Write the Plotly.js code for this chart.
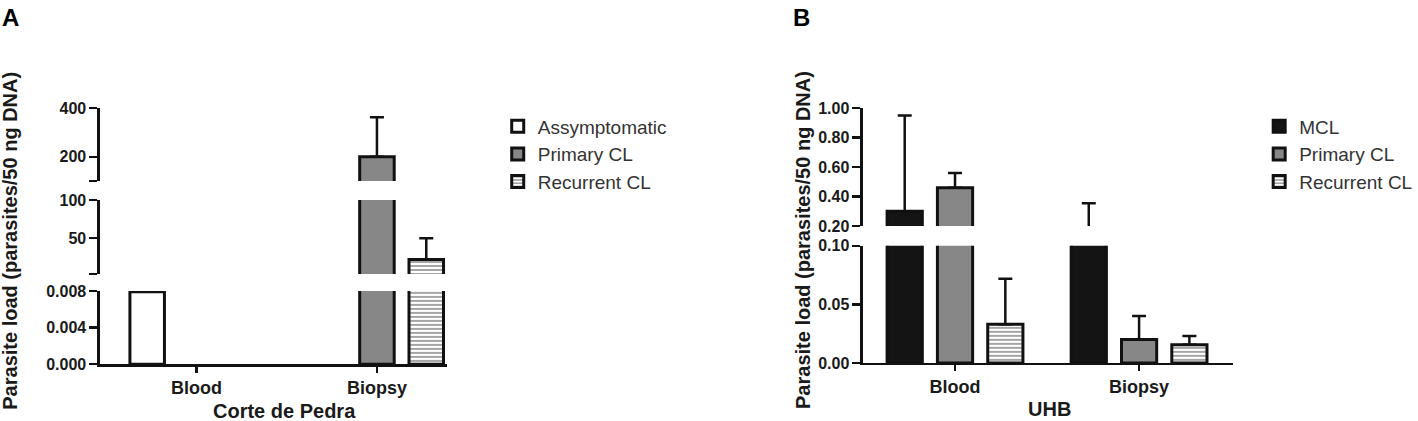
<!DOCTYPE html>
<html>
<head>
<meta charset="utf-8">
<script src="https://cdn.plot.ly/plotly-3.0.1.min.js"></script>
<style>
  body { margin: 0; background: #fff; }
  #chart { width: 1418px; height: 421px; }
</style>
</head>
<body>
<div id="chart"></div>
<script>
const categories = ['Blood', 'Biopsy'];

// panel A - Corte de Pedra
const seriesA = ['Assymptomatic', 'Primary CL', 'Recurrent CL'];
const asymA = [0.0079, null];
const asymErrA = [0, null];
const primaryA = [null, 200];
const primaryErrA = [null, 163];
const recurrentA = [null, 22];
const recurrentErrA = [null, 28];

// panel B - UHB
const seriesB = ['MCL', 'Primary CL', 'Recurrent CL'];
const mclB = [0.30, 0.15];
const mclErrB = [0.65, 0.205];
const primaryB = [0.46, 0.020];
const primaryErrB = [0.10, 0.020];
const recurrentB = [0.033, 0.0155];
const recurrentErrB = [0.039, 0.0075];

// y tick labels, per axis segment (bottom -> top)
const ticksA = [
  { vals: [0, 0.004, 0.008], text: ['0.000', '0.004', '0.008'] },
  { vals: [3, 50, 100], text: ['', '50', '100'] },
  { vals: [100, 200, 400], text: ['', '200', '400'] }
];
const ticksB = [
  { vals: [0, 0.05, 0.10], text: ['0.00', '0.05', '0.10'] },
  { vals: [0.2, 0.4, 0.6, 0.8, 1.0], text: ['0.20', '0.40', '0.60', '0.80', '1.00'] }
];

const FONT = 'Liberation Sans, Arial, sans-serif';
const INK = '#111';

// axis segments for the broken y axes; "mark" is the overlay axis for the break marks
const segA = [
  { id: 'y',  mark: 'y6',  range: [0, 0.008], domain: [0.135, 0.309], breaks: [0.008] },
  { id: 'y2', mark: 'y7',  range: [3, 100],   domain: [0.349, 0.525], breaks: [3, 100] },
  { id: 'y3', mark: 'y8',  range: [100, 400], domain: [0.570, 0.743], breaks: [100] }
];
const segB = [
  { id: 'y4', mark: 'y9',  range: [0, 0.1],   domain: [0.138, 0.416], breaks: [0.1] },
  { id: 'y5', mark: 'y10', range: [0.2, 1.0], domain: [0.463, 0.743], breaks: [0.2] }
];

const styles = {
  'Assymptomatic': { color: '#ffffff' },
  'MCL': { color: '#141414' },
  'Primary CL': { color: '#878787' },
  'Recurrent CL': { color: '#ffffff',
    pattern: { shape: '-', fgcolor: '#6a6a6a', bgcolor: '#ffffff', size: 4, solidity: 0.3 } }
};

function makeTraces(names, values, errors, xaxis, segs, legendId) {
  let traces = [];
  segs.forEach((seg, i) => {
    names.forEach((name, k) => {
      traces.push({
        type: 'bar',
        name: name,
        x: categories,
        y: values[k],
        xaxis: xaxis,
        yaxis: seg.id,
        legend: legendId,
        legendgroup: legendId + name,
        showlegend: i === 0,
        marker: Object.assign({ line: { color: INK, width: 3 } }, styles[name]),
        error_y: {
          type: 'data', symmetric: false,
          array: errors[k],
          arrayminus: errors[k].map(() => 0),
          color: INK, thickness: 2.5, width: 7
        },
        hoverinfo: 'skip'
      });
    });
  });
  return traces;
}

const data = [].concat(
  makeTraces(seriesA, [asymA, primaryA, recurrentA], [asymErrA, primaryErrA, recurrentErrA], 'x', segA, 'legend'),
  makeTraces(seriesB, [mclB, primaryB, recurrentB], [mclErrB, primaryErrB, recurrentErrB], 'x2', segB, 'legend2')
);

function yAxis(seg, ticks, anchor) {
  return {
    domain: seg.domain, range: seg.range, anchor: anchor,
    showline: true, linewidth: 2.5, linecolor: INK,
    ticks: 'outside', ticklen: 8, tickwidth: 2.5, tickcolor: INK,
    tickmode: 'array', tickvals: ticks.vals, ticktext: ticks.text,
    tickfont: { family: FONT, size: 16, weight: 'bold', color: '#1a1a1a' },
    showgrid: false, zeroline: false, fixedrange: true
  };
}

// break marks cross the axis line: inside half drawn by an overlay axis
function markAxis(seg, anchor) {
  return {
    overlaying: seg.id, anchor: anchor, side: 'left', range: seg.range,
    showline: false, ticks: 'inside', ticklen: 6, tickwidth: 2.5, tickcolor: INK,
    tickmode: 'array', tickvals: seg.breaks, showticklabels: false,
    showgrid: false, zeroline: false, fixedrange: true
  };
}

function xAxis(domain, range, anchor) {
  return {
    domain: domain, range: range, anchor: anchor, type: 'category',
    showline: true, linewidth: 2.5, linecolor: INK,
    ticks: 'outside', ticklen: 6, tickwidth: 2.5, tickcolor: INK,
    tickfont: { family: FONT, size: 18, weight: 'bold', color: '#1a1a1a' },
    showgrid: false, zeroline: false, fixedrange: true
  };
}

const legendStyle = {
  xanchor: 'left', yanchor: 'top', y: 0.745,
  font: { family: FONT, size: 19, color: '#333' },
  bgcolor: 'rgba(0,0,0,0)', traceorder: 'normal'
};

const layout = {
  width: 1418, height: 421,
  margin: { l: 0, r: 0, t: 0, b: 0 },
  paper_bgcolor: '#fff', plot_bgcolor: 'rgba(0,0,0,0)',
  barmode: 'group', bargap: 0.18, bargroupgap: 0.30,
  xaxis: xAxis([0.0705, 0.3152], [-0.535, 1.388], 'y'),
  xaxis2: xAxis([0.6086, 0.8695], [-0.5, 1.51], 'y4'),
  legend: Object.assign({ x: 0.351 }, legendStyle),
  legend2: Object.assign({ x: 0.888 }, legendStyle),
  annotations: [
    { text: '<b>A</b>', x: 0.0, y: 0.995, xanchor: 'left', yanchor: 'top' },
    { text: '<b>B</b>', x: 0.558, y: 0.995, xanchor: 'left', yanchor: 'top' }
  ].map(a => Object.assign(a, { xref: 'paper', yref: 'paper', showarrow: false,
                                font: { family: FONT, size: 24, color: '#000' } }))
    .concat([
      { text: '<b>Parasite load (parasites/50 ng DNA)</b>', x: 0.007, y: 0.428, textangle: -90 },
      { text: '<b>Parasite load (parasites/50 ng DNA)</b>', x: 0.5663, y: 0.43, textangle: -90 },
      { text: '<b>Corte de Pedra</b>', x: 0.2003, y: 0.024 },
      { text: '<b>UHB</b>', x: 0.7398, y: 0.028 }
    ].map(a => Object.assign(a, { xref: 'paper', yref: 'paper', showarrow: false,
                                  xanchor: 'center', yanchor: 'middle',
                                  font: { family: FONT, size: 20, color: '#1a1a1a' } })))
};

segA.forEach((seg, i) => {
  layout['yaxis' + seg.id.slice(1)] = yAxis(seg, ticksA[i], 'x');
  layout['yaxis' + seg.mark.slice(1)] = markAxis(seg, 'x');
});
segB.forEach((seg, i) => {
  layout['yaxis' + seg.id.slice(1)] = yAxis(seg, ticksB[i], 'x2');
  layout['yaxis' + seg.mark.slice(1)] = markAxis(seg, 'x2');
});

Plotly.newPlot('chart', data, layout, { displayModeBar: false, staticPlot: true });
</script>
</body>
</html>
